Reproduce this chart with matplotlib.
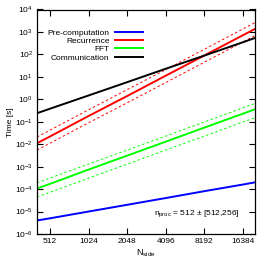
import numpy as np
import matplotlib
matplotlib.use("Agg")
import matplotlib.pyplot as plt
from matplotlib.ticker import FixedLocator, FixedFormatter, LogLocator, NullLocator

# N_side sample points (range ends included so the lines span the frame)
nside = [406, 512, 1024, 2048, 4096, 8192, 16384, 20300]

precomp = [4.0e-6, 5.0e-6, 1.0e-5, 2.0e-5, 4.0e-5, 8.1e-5, 1.6e-4, 2.0e-4]

recur = [0.011, 0.022, 0.18, 1.4, 11.3, 90, 720, 1370]
recur_hi = [0.021, 0.042, 0.34, 2.7, 21, 170, 1370, 2600]
recur_lo = [0.0055, 0.011, 0.09, 0.7, 5.6, 45, 360, 690]

fft = [1.07e-4, 1.7e-4, 7.4e-4, 3.1e-3, 1.3e-2, 5.5e-2, 0.23, 0.36]
fft_hi = [1.9e-4, 3.1e-4, 1.3e-3, 5.5e-3, 2.3e-2, 9.8e-2, 0.42, 0.65]
fft_lo = [4.5e-5, 7.2e-5, 3.1e-4, 1.3e-3, 5.5e-3, 2.3e-2, 9.8e-2, 0.15]

comm = [0.24, 0.38, 1.48, 5.8, 23, 89, 350, 540]

xticks = [512, 1024, 2048, 4096, 8192, 16384]
xticklabels = ["512", "1024", "2048", "4096", "8192", "16384"]

plt.rcParams['font.family'] = ['Liberation Sans', 'DejaVu Sans']
plt.rcParams['mathtext.fontset'] = 'custom'
plt.rcParams['mathtext.rm'] = 'Liberation Sans'
plt.rcParams['mathtext.it'] = 'Liberation Sans:italic'
plt.rcParams['mathtext.bf'] = 'Liberation Sans:bold'
plt.rcParams['font.size'] = 6

fig = plt.figure(figsize=(2.7, 2.7), dpi=100)
ax = fig.add_axes([37 / 270, 1 - 234 / 270, 218 / 270, 224.5 / 270])

dash = (0, (2.5, 2.5))
ax.plot(nside, recur_hi, color='#ff0000', lw=0.7, ls=dash)
ax.plot(nside, recur_lo, color='#ff0000', lw=0.7, ls=dash)
ax.plot(nside, fft_hi, color='#00ff00', lw=0.7, ls=dash)
ax.plot(nside, fft_lo, color='#00ff00', lw=0.7, ls=dash)

ax.plot(nside, precomp, color='#0000ff', lw=1.4, label='Pre-computation')
ax.plot(nside, recur, color='#ff0000', lw=1.4, label='Recurrence')
ax.plot(nside, fft, color='#00ff00', lw=1.4, label='FFT')
ax.plot(nside, comm, color='black', lw=1.4, label='Communication')

ax.set_xscale('log', base=2)
ax.set_yscale('log')
ax.set_xlim(406, 20300)
ax.set_ylim(1e-6, 1e4)

ax.xaxis.set_major_locator(FixedLocator(xticks))
ax.xaxis.set_major_formatter(FixedFormatter(xticklabels))
ax.xaxis.set_minor_locator(NullLocator())
ax.yaxis.set_major_locator(LogLocator(base=10, numticks=20))
ax.yaxis.set_minor_locator(NullLocator())

ax.tick_params(which='major', direction='in', length=4, width=0.8,
               top=True, right=True, labelsize=6, pad=3)
for s in ax.spines.values():
    s.set_linewidth(0.9)

ax.set_xlabel(r'N$_{\rm side}$', fontsize=6.5, labelpad=2)
ax.set_ylabel('Time [s]', fontsize=6, labelpad=1)

ax.legend(loc='upper right', bbox_to_anchor=((143 - 37) / 218, (234 - 29) / 224.5),
          frameon=False, markerfirst=False, borderpad=0, borderaxespad=0,
          handlelength=3.3, handletextpad=0.7, labelspacing=0.05, fontsize=6)

ax.text((239 - 37) / 218, (234 - 215) / 224.5, r'n$_{\rm proc}$ = 512 ± [512,256]',
        transform=ax.transAxes, ha='right', va='baseline', fontsize=6)

fig.savefig('out.png', dpi=100)
